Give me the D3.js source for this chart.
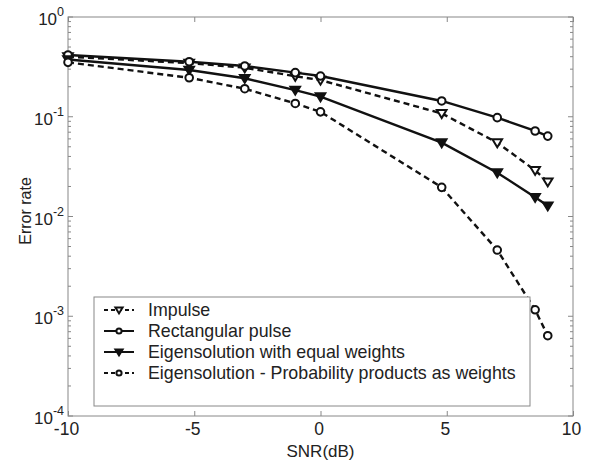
<!DOCTYPE html>
<html><head><meta charset="utf-8">
<script src="https://cdn.jsdelivr.net/npm/d3@7/dist/d3.min.js"></script>
<style>body{margin:0;background:#fff}svg{display:block}text{font-family:"Liberation Sans",Arial,sans-serif;fill:#222}</style>
</head><body><div id="chart"></div>
<script>
const snr = [-10, -5.2, -3, -1, 0, 4.8, 7, 8.5, 9];
const impulse = [0.40, 0.345, 0.31, 0.255, 0.233, 0.108, 0.055, 0.029, 0.0223];
const rectangular = [0.416, 0.356, 0.323, 0.277, 0.256, 0.144, 0.098, 0.072, 0.064];
const eigenEqual = [0.375, 0.294, 0.243, 0.185, 0.159, 0.055, 0.0275, 0.0156, 0.0128];
const eigenProb = [0.351, 0.246, 0.191, 0.136, 0.112, 0.0196, 0.00461, 0.00116, 0.000638];
const seriesNames = ["Impulse", "Rectangular pulse", "Eigensolution with equal weights", "Eigensolution - Probability products as weights"];
const xTicks = [-10, -5, 0, 5, 10];
const yTickExps = [0, -1, -2, -3, -4];

const W = 598, H = 461;
const m = {l: 68, r: 25, t: 17, b: 45};
const svg = d3.select("#chart").append("svg").attr("width", W).attr("height", H);
const x = d3.scaleLinear().domain([-10, 10]).range([m.l, W - m.r]);
const y = d3.scaleLog().domain([1e-4, 1]).range([H - m.b, m.t]);

const axisCol = "#888";
svg.append("rect").attr("x", m.l).attr("y", m.t).attr("width", x(10) - x(-10)).attr("height", y(1e-4) - y(1))
  .attr("fill", "none").attr("stroke", axisCol).attr("stroke-width", 1);

const gx = svg.append("g").attr("transform", `translate(0,${y(1e-4)})`)
  .call(d3.axisBottom(x).tickValues(xTicks).tickSize(-5).tickPadding(7).tickFormat(d3.format("d")));
gx.select(".domain").remove();
gx.selectAll("line").attr("stroke", axisCol);
gx.selectAll("text").attr("font-size", 17.5).attr("fill", "#222").attr("dx", -2).text(d => d < 0 ? "-" + Math.abs(d) : d);
const gxt = svg.append("g").attr("transform", `translate(0,${y(1)})`)
  .call(d3.axisTop(x).tickValues(xTicks).tickSize(-5).tickFormat(""));
gxt.select(".domain").remove();
gxt.selectAll("line").attr("stroke", axisCol);

const minor = [];
for (let e = -4; e < 0; e++) for (let k = 2; k <= 9; k++) minor.push(k * Math.pow(10, e));
const majors = yTickExps.map(e => Math.pow(10, e));
[[m.l, 1], [W - m.r, -1]].forEach(([px, dir]) => {
  const g = svg.append("g");
  g.selectAll("line.mj").data(majors).join("line").attr("x1", px).attr("x2", px + dir * 5)
    .attr("y1", d => y(d)).attr("y2", d => y(d)).attr("stroke", axisCol);
  g.selectAll("line.mn").data(minor).join("line").attr("x1", px).attr("x2", px + dir * 3)
    .attr("y1", d => y(d)).attr("y2", d => y(d)).attr("stroke", axisCol);
});
const yl = svg.append("g");
yTickExps.forEach(e => {
  const t = yl.append("text").attr("x", m.l - 4).attr("y", y(Math.pow(10, e)) + 8).attr("text-anchor", "end").attr("font-size", 17);
  t.append("tspan").text("10");
  t.append("tspan").attr("dy", -9).attr("font-size", 12.5).text(e);
});

svg.append("text").attr("x", x(0)).attr("y", H - 4).attr("text-anchor", "middle").attr("font-size", 17).text("SNR(dB)");
svg.append("text").attr("transform", `translate(31,${211}) rotate(-90)`).attr("text-anchor", "middle").attr("font-size", 16).text("Error rate");

const col = "#111";
const series = [
  {vals: impulse, dash: "6,4", marker: "triDown", fill: "#fff"},
  {vals: rectangular, dash: null, marker: "circle", fill: "#fff"},
  {vals: eigenEqual, dash: null, marker: "triDown", fill: col},
  {vals: eigenProb, dash: "6,4", marker: "circle", fill: "#fff"}
];
const line = d3.line().x(d => x(d[0])).y(d => y(d[1]));
const triPath = r => `M${-r},${-r * 0.7}L${r},${-r * 0.7}L0,${r * 0.95}Z`;
function drawMarker(g, type, fill, cx, cy, r) {
  if (type === "circle") g.append("circle").attr("cx", cx).attr("cy", cy).attr("r", r).attr("fill", fill).attr("stroke", col).attr("stroke-width", 2);
  else g.append("path").attr("d", triPath(r + 1)).attr("transform", `translate(${cx},${cy})`).attr("fill", fill).attr("stroke", col).attr("stroke-width", 2);
}
series.forEach(s => {
  const pts = snr.map((v, i) => [v, s.vals[i]]);
  svg.append("path").attr("d", line(pts)).attr("fill", "none").attr("stroke", col).attr("stroke-width", 2.4)
    .attr("stroke-dasharray", s.dash);
  const g = svg.append("g");
  pts.forEach(p => drawMarker(g, s.marker, s.fill, x(p[0]), y(p[1]), 3.8));
});

const lg = svg.append("g");
const lx = 94, ly = 297, lw = 436, lh = 109;
lg.append("rect").attr("x", lx).attr("y", ly).attr("width", lw).attr("height", lh).attr("fill", "#fff").attr("stroke", axisCol);
seriesNames.forEach((n, i) => {
  const cy = ly + 13 + i * 21;
  const s = series[i];
  lg.append("line").attr("x1", lx + 10).attr("x2", lx + 40).attr("y1", cy).attr("y2", cy).attr("stroke", col).attr("stroke-width", 2)
    .attr("stroke-dasharray", s.dash ? "4,3" : null);
  drawMarker(lg, s.marker, s.fill, lx + 25, cy, 2.6);
  lg.append("text").attr("x", lx + 54).attr("y", cy + 6).attr("font-size", 17.8).text(n);
});
</script></body></html>
